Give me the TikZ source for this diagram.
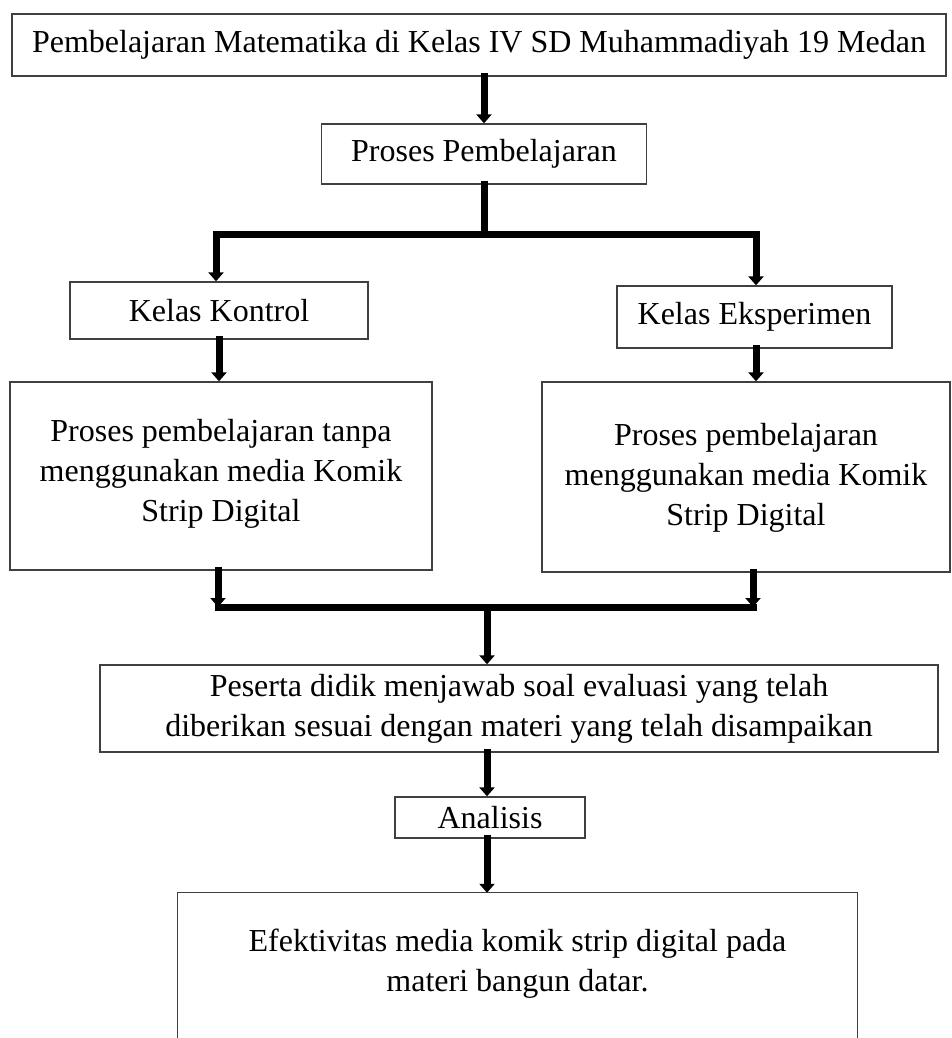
\documentclass[tikz,border=0pt]{standalone}
\usepackage{fontspec}
\setmainfont{Liberation Serif}
\usetikzlibrary{arrows.meta}
\definecolor{boxgray}{HTML}{404040}
\begin{document}
\begin{tikzpicture}[x=1pt,y=-1pt,
  box/.style={draw=boxgray, line width=1.3pt, inner sep=0pt, align=center, font=\fontsize{32}{40}\selectfont},
  txt/.style={inner sep=0pt, align=center, font=\fontsize{32}{40}\selectfont},
  conn/.style={line width=7pt, black, line cap=rect},
  arr/.style={conn, -{Triangle[width=15pt,length=9pt]}}]
\useasboundingbox (0,0) rectangle (952,1038);
\fill[white] (0,0) rectangle (952,1038);

\node[box, minimum width=934pt, minimum height=62pt] (top) at (479,45) {Pembelajaran Matematika di Kelas IV SD Muhammadiyah 19 Medan};
\node[box, minimum width=325pt, minimum height=60pt] (proses) at (484,154) {Proses Pembelajaran};
\node[box, minimum width=298pt, minimum height=57pt] (kontrol) at (219,310.5) {Kelas Kontrol};
\node[box, minimum width=275pt, minimum height=62pt] (eksp) at (754.5,317) {Kelas Eksperimen};
\node[box, minimum width=422pt, minimum height=188pt] (left) at (221,476) {};
\node[txt] (lefttext) at (221,474) {Proses pembelajaran tanpa\\menggunakan media Komik\\Strip Digital};
\node[box, minimum width=408pt, minimum height=190pt] (right) at (746,477) {};
\node[txt] (righttext) at (746,478) {Proses pembelajaran\\menggunakan media Komik\\Strip Digital};
\node[box, minimum width=838pt, minimum height=87pt] (peserta) at (519,708.5) {Peserta didik menjawab soal evaluasi yang telah\\diberikan sesuai dengan materi yang telah disampaikan};
\node[box, minimum width=190pt, minimum height=41pt] (analisis) at (490,817.5) {Analisis};
\node[txt, minimum width=679pt, minimum height=141pt] (final) at (517.5,963.5) {Efektivitas media komik strip digital pada\\materi bangun datar.};
\draw[boxgray, line width=1.3pt] (final.north west) ++(0,160) -- (final.north west) -- (final.north east) -- ++(0,160);

\coordinate (b1l) at (216,234.5);
\coordinate (b1r) at (756,234.5);
\coordinate (b1m) at (484,234.5);
\coordinate (b2l) at (218,607);
\coordinate (b2r) at (753,607);
\coordinate (b2m) at (487,607);

\draw[arr] (proses.north |- top.south) -- (proses.north);
\draw[conn] (proses.south) -- (b1m);
\draw[conn] (b1l) -- (b1r);
\draw[arr] (b1l) -- (b1l |- kontrol.north);
\draw[arr] (b1r) -- (b1r |- eksp.north);
\draw[arr] (kontrol.south) -- (left.north -| kontrol.south);
\draw[arr] (eksp.south -| b1r) -- (right.north -| b1r);
\draw[arr] (left.south -| b2l) -- (b2l);
\draw[arr] (right.south -| b2r) -- (b2r);
\draw[conn] (b2l) -- (b2r);
\draw[arr] (b2m) -- (peserta.north -| b2m);
\draw[arr] (peserta.south -| b2m) -- (analisis.north -| b2m);
\draw[arr] (analisis.south -| b2m) -- (final.north -| b2m);
\end{tikzpicture}
\end{document}
